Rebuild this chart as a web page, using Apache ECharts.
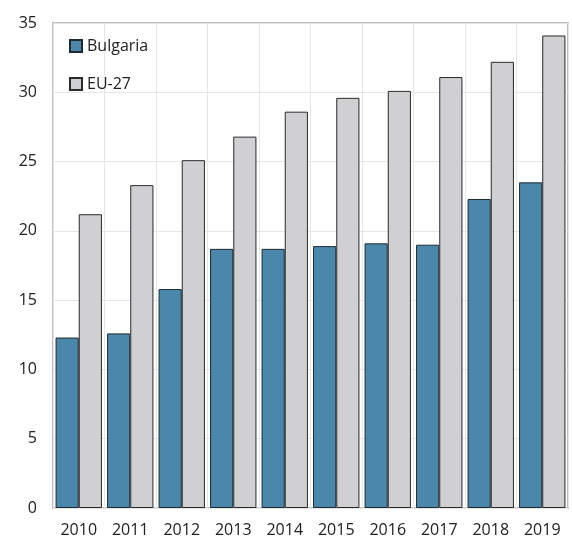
<!DOCTYPE html>
<html><head><meta charset="utf-8">
<script src="https://cdn.jsdelivr.net/npm/echarts@6/dist/echarts.min.js"></script>
<style>html,body{margin:0;padding:0;background:#fff}#c{width:572px;height:550px}</style>
</head><body><div id="c"></div>
<script>
const categories = ['2010','2011','2012','2013','2014','2015','2016','2017','2018','2019'];
const bulgaria = [12.3, 12.6, 15.8, 18.7, 18.7, 18.9, 19.1, 19.0, 22.3, 23.5];
const eu27 = [21.2, 23.3, 25.1, 26.8, 28.6, 29.6, 30.1, 31.1, 32.2, 34.1];
const yTicks = [0, 5, 10, 15, 20, 25, 30, 35];

const chart = echarts.init(document.getElementById('c'));
const font = '"Open Sans", "Noto Sans", sans-serif';
chart.setOption({
  animation: false,
  textStyle: { fontFamily: font },
  grid: { left: 53, right: 4, top: 23, bottom: 42, show: true, borderColor: '#bfbfbf', borderWidth: 2, containLabel: false },
  legend: {
    orient: 'vertical', left: 64, top: 33, itemWidth: 12, itemHeight: 12, itemGap: 22, icon: 'rect',
    textStyle: { fontSize: 16, color: '#222', fontFamily: font },
    data: ['Bulgaria', 'EU-27']
  },
  xAxis: {
    type: 'category', data: categories,
    axisLine: { show: false }, axisTick: { show: false },
    splitLine: { show: true, lineStyle: { color: '#e6e6e6', width: 1 } },
    axisLabel: { fontSize: 16, color: '#222', margin: 14, fontFamily: font }
  },
  yAxis: {
    type: 'value', min: 0, max: 35, interval: 5,
    axisLine: { show: false }, axisTick: { show: false },
    splitLine: { lineStyle: { color: '#e6e6e6', width: 1 } },
    axisLabel: { fontSize: 16, color: '#222', margin: 16, fontFamily: font,
      formatter: v => yTicks.includes(v) ? String(v) : '' }
  },
  series: [
    { name: 'Bulgaria', type: 'bar', data: bulgaria, barGap: '0%', barCategoryGap: '10%',
      itemStyle: { color: '#4a87aa', borderColor: '#1e2a30', borderWidth: 1 } },
    { name: 'EU-27', type: 'bar', data: eu27,
      itemStyle: { color: '#d0cfd2', borderColor: '#2a2a2a', borderWidth: 1 } }
  ]
});
</script></body></html>
